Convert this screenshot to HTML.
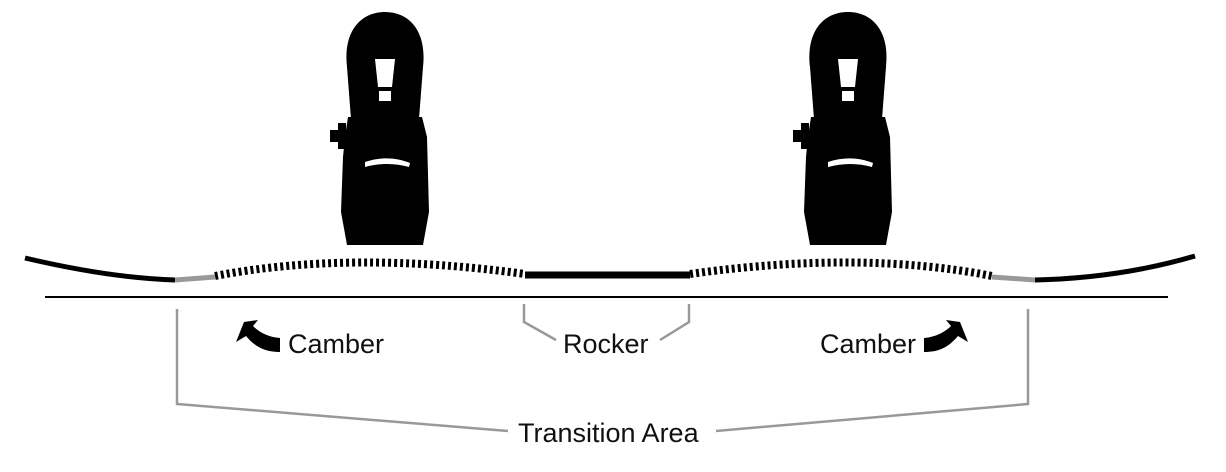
<!DOCTYPE html>
<html><head><style>
body{margin:0;background:#fff;width:1226px;height:472px;overflow:hidden}
svg{display:block}
text{font-family:"Liberation Sans",sans-serif;font-size:27px;fill:#111}
</style></head><body>
<svg width="1226" height="472" viewBox="0 0 1226 472">
<defs>
<g id="bind">
  <path d="M-38,40 C-42,5 -25,-15 0,-15 C25,-15 42,5 38,40 L34,92 L-34,92 Z" fill="#000"/>
  <path d="M-10,32 L10,32 L7,60 L-7,60 Z" fill="#fff"/>
  <rect x="-6" y="64" width="12" height="10" fill="#fff"/>
  <path d="M-37,90 L37,90 L42,110 L44,185 L38,218 L-38,218 L-44,185 L-42,130 L-40,110 Z" fill="#000"/>
  <rect x="-55" y="103" width="20" height="12" fill="#000"/>
  <rect x="-47" y="96" width="8" height="26" fill="#000"/>
  <path d="M-20,135 C-5,130 10,130 25,136 L24,140 C10,136 -5,136 -20,140 Z" fill="#fff"/>
</g>
</defs>
<use href="#bind" x="385" y="27"/>
<use href="#bind" x="848" y="27"/>
<path d="M25,258 Q110,278 175,280" stroke="#000" stroke-width="5" fill="none"/>
<path d="M175,280 L215,277" stroke="#999" stroke-width="5" fill="none"/>
<path d="M215,276 Q350,250 525,274" stroke="#000" stroke-width="8" stroke-dasharray="3,3" fill="none"/>
<path d="M525,275 L690,275" stroke="#000" stroke-width="7" fill="none"/>
<path d="M690,274 Q860,250 992,276" stroke="#000" stroke-width="8" stroke-dasharray="3,3" fill="none"/>
<path d="M992,277 L1035,280" stroke="#999" stroke-width="5" fill="none"/>
<path d="M1035,280 Q1120,278 1195,256" stroke="#000" stroke-width="5" fill="none"/>
<line x1="45" y1="297" x2="1168" y2="297" stroke="#000" stroke-width="2"/>
<g stroke="#999" stroke-width="2.5" fill="none">
<path d="M177,309 L177,404 L508,431"/>
<path d="M716,431 L1028,404 L1028,309"/>
<path d="M524,304 L524,322 L556,340"/>
<path d="M660,340 L689,322 L689,304"/>
</g>
<text x="288" y="353">Camber</text>
<text x="563" y="353">Rocker</text>
<text x="820" y="353">Camber</text>
<text x="518" y="442">Transition Area</text>
<path d="M244,322 L236,342 L246,336 C256,348 266,352 280,352 L280,338 C268,337 259,332 253,326 L258,320 Z" fill="#000"/>
<path d="M960,322 L968,342 L958,336 C948,348 938,352 924,352 L924,338 C936,337 945,332 951,326 L946,320 Z" fill="#000"/>
</svg>
</body></html>
